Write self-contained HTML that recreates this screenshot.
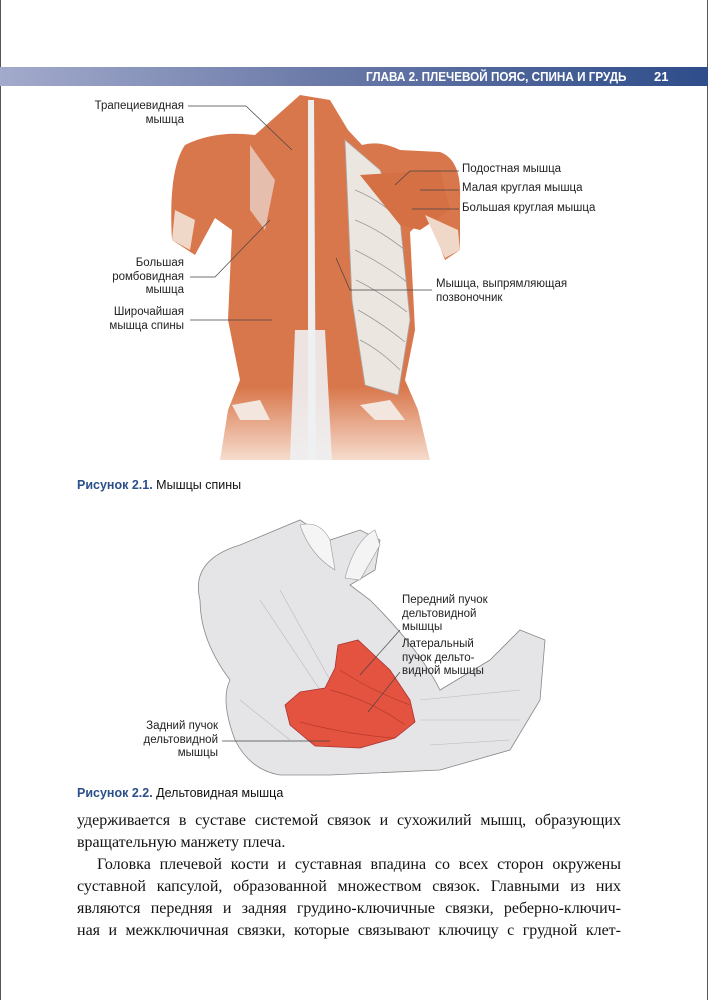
<!DOCTYPE html>
<html><head><meta charset="utf-8"><style>
body{margin:0;background:#fff;width:708px;height:1000px;position:relative;overflow:hidden;font-family:"Liberation Sans",sans-serif}
.lbl{position:absolute;font-size:11.5px;line-height:13.5px;color:#222}
.r{text-align:right}
.bar{position:absolute;left:0;top:67px;width:708px;height:19px;background:linear-gradient(90deg,#a3abcc,#6b7aa8 45%,#2e4d8a)}
.bar span{position:absolute;top:2px;color:#fff;font-size:13px;font-weight:bold;font-family:"Liberation Sans",sans-serif}
.cap{position:absolute;left:77px;font-size:12.5px;color:#111}
.cap b{color:#2b4f8a}
.ln{position:absolute;left:77px;width:544px;font-family:"Liberation Serif",serif;font-size:16px;line-height:22px;text-align:justify;text-align-last:justify;color:#111;white-space:nowrap}
.ln.e{text-align-last:left}
svg{position:absolute;left:0;top:0}
</style></head><body>
<div style="position:absolute;left:0;top:0;width:1px;height:1000px;background:#555"></div>
<div style="position:absolute;right:0;top:0;width:1px;height:1000px;background:#555"></div>
<div class="bar"><span style="left:366px;transform:scaleX(.9);transform-origin:left">ГЛАВА 2. ПЛЕЧЕВОЙ ПОЯС, СПИНА И ГРУДЬ</span><span style="left:654px">21</span></div>
<svg width="708" height="1000">
<defs><linearGradient id="fade" x1="0" y1="0" x2="0" y2="1"><stop offset="0.8" stop-color="#d9774c"/><stop offset="1" stop-color="#f6dccd"/></linearGradient></defs>
<path d="M300,95 L330,100 L348,130 L362,145 Q380,140 400,150 L440,152 Q462,160 460,200 L460,250 L445,260 L428,215 L410,232 L415,330 L405,380 L418,410 L430,460 L220,460 L228,410 L240,380 L228,320 L232,230 L215,218 L195,255 L172,240 Q168,170 185,145 Q215,130 255,135 Z" fill="url(#fade)"/>
<path d="M345,140 L380,170 L400,220 L410,320 L398,395 L365,385 L352,300 Z" fill="#ece6e1" stroke="#aaa" stroke-width="0.8"/>
<g stroke="#999" stroke-width="0.8" fill="none"><path d="M355,190 Q380,200 400,220"/><path d="M355,220 Q380,230 405,250"/><path d="M355,250 Q380,262 407,282"/><path d="M356,280 Q380,292 407,312"/><path d="M358,310 Q380,322 405,342"/><path d="M360,340 Q380,350 400,370"/></g>
<path d="M360,175 L440,170 L450,210 L420,230 L400,225 Z" fill="#d56f44"/>
<path d="M308,100 L314,100 L316,460 L308,460 Z" fill="#eee"/>
<path d="M295,330 L325,330 L332,460 L290,460 Z" fill="#eef0f2" opacity=".9"/>
<path d="M250,145 L275,180 L265,230 L250,210 Z" fill="#eeeeee" opacity=".6"/>
<path d="M232,405 L260,400 L270,420 L240,420 Z" fill="#f3e6de"/>
<path d="M360,405 L390,400 L405,420 L375,420 Z" fill="#f3e6de"/>
<path d="M175,210 L195,220 L190,250 L172,240 Z" fill="#f0d8c8"/>
<path d="M425,215 L458,230 L460,250 L445,258 Z" fill="#f0d8c8"/>
<g stroke="#444" stroke-width="0.7" fill="none">
<path d="M188,106 L246,106 L292,150"/>
<path d="M459,171 L410,171 L395,185"/>
<path d="M459,190 L420,190"/>
<path d="M459,209 L412,209"/>
<path d="M190,277 L215,277 L270,220"/>
<path d="M190,320 L272,320"/>
<path d="M432,290 L350,290 L336,258"/>
</g>
<path d="M200,600 Q190,560 240,545 L300,520 L330,540 L360,530 L380,540 L375,570 L350,585 L370,600 Q420,650 440,690 L490,660 L520,630 L545,640 L540,700 L510,750 L440,770 L330,775 L280,775 Q250,770 235,740 Q220,700 230,680 Q200,640 200,600 Z" fill="#e5e5e8" stroke="#888" stroke-width="0.8"/>
<path d="M345,578 Q355,540 375,530 L380,545 L360,580 Z" fill="#f4f4f4" stroke="#999" stroke-width="0.6"/>
<path d="M300,525 Q320,520 330,540 L335,570 Q310,555 300,525 Z" fill="#f5f5f5" stroke="#999" stroke-width=".6"/>
<g stroke="#bbb" stroke-width=".6" fill="none"><path d="M260,600 L320,690"/><path d="M280,590 L330,680"/><path d="M420,700 L520,690"/><path d="M420,720 L520,720"/><path d="M430,745 L510,740"/><path d="M240,700 L290,740"/></g>
<path d="M338,645 L358,640 L390,670 L410,700 L415,722 L395,738 L360,748 L315,746 L290,725 L285,705 L300,692 L325,688 L335,668 Z" fill="#e4533f" stroke="#a33" stroke-width="0.8"/>
<g stroke="#b73a2c" stroke-width=".7" fill="none"><path d="M330,690 Q370,700 405,725"/><path d="M340,670 Q370,690 410,705"/><path d="M300,722 Q350,735 395,738"/></g>
<g stroke="#444" stroke-width="0.7" fill="none">
<path d="M400,630 L360,675"/>
<path d="M400,672 L368,712"/>
<path d="M222,741 L330,741"/>
</g>
</svg>
<div class="lbl r" style="left:70px;top:100px;width:114px">Трапециевидная<br>мышца</div>
<div class="lbl" style="left:462px;top:163px">Подостная мышца</div>
<div class="lbl" style="left:462px;top:182px">Малая круглая мышца</div>
<div class="lbl" style="left:462px;top:202px">Большая круглая мышца</div>
<div class="lbl r" style="left:70px;top:257px;width:114px">Большая<br>ромбовидная<br>мышца</div>
<div class="lbl r" style="left:70px;top:306px;width:114px">Широчайшая<br>мышца спины</div>
<div class="lbl" style="left:436px;top:278px">Мышца, выпрямляющая<br>позвоночник</div>
<div class="cap" style="top:478px"><b>Рисунок 2.1.</b> Мышцы спины</div>
<div class="lbl" style="left:402px;top:594px">Передний пучок<br>дельтовидной<br>мышцы</div>
<div class="lbl" style="left:402px;top:638px">Латеральный<br>пучок дельто-<br>видной мышцы</div>
<div class="lbl r" style="left:100px;top:720px;width:118px">Задний пучок<br>дельтовидной<br>мышцы</div>
<div class="cap" style="top:786px"><b>Рисунок 2.2.</b> Дельтовидная мышца</div>
<div class="ln" style="top:810px">удерживается в суставе системой связок и сухожилий мышц, образующих</div>
<div class="ln e" style="top:832px">вращательную манжету плеча.</div>
<div class="ln" style="top:854px;left:97px;width:524px">Головка плечевой кости и суставная впадина со всех сторон окружены</div>
<div class="ln" style="top:876px">суставной капсулой, образованной множеством связок. Главными из них</div>
<div class="ln" style="top:898px">являются передняя и задняя грудино-ключичные связки, реберно-ключич-</div>
<div class="ln" style="top:920px">ная и межключичная связки, которые связывают ключицу с грудной клет-</div>
</body></html>
